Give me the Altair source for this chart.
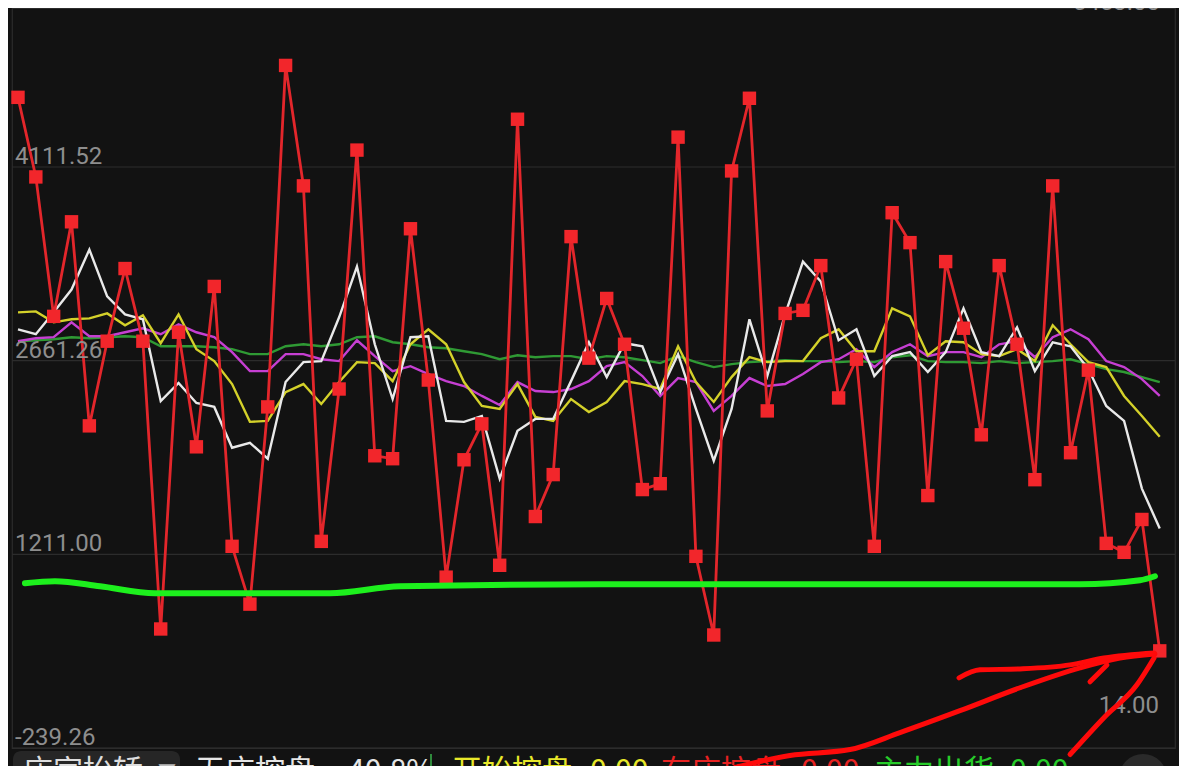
import altair as alt
import pandas as pd

# ---------------- data ----------------
idx = list(range(1, 66))
red_vals = [4633, 4037, 2993, 3701, 2173, 2807, 3351, 2807, 652, 2874,
            2016, 3217, 1271, 838, 2315, 4872, 3970, 1308, 2449, 4238,
            1949, 1927, 3649, 2516, 1040, 1919, 2188, 1129, 4469, 1494,
            1808, 3590, 2680, 3127, 2784, 1696, 1740, 4335, 1196, 607,
            4082, 4626, 2285, 3015, 3038, 3373, 2382, 2672, 1271, 3769,
            3545, 1651, 3403, 2904, 2106, 3373, 2784, 1770, 3970, 1972,
            2590, 1293, 1226, 1472, 488]
white_vals = [2896, 2859, 3023, 3194, 3493, 3142, 3008, 2971, 2359, 2494,
              2344, 2315, 2009, 2046, 1927, 2501, 2650, 2658, 2986, 3366,
              2784, 2374, 2837, 2844, 2210, 2203, 2247, 1778, 2136, 2225,
              2225, 2508, 2799, 2538, 2792, 2769, 2426, 2710, 2300, 1912,
              2300, 2971, 2546, 3008, 3403, 3254, 2814, 2896, 2546, 2695,
              2725, 2576, 2725, 3053, 2725, 2695, 2911, 2583, 2799, 2769,
              2598, 2322, 2210, 1703, 1405]
yellow_vals = [3023, 3030, 2948, 2971, 2978, 3015, 2926, 3001, 2792, 3008,
               2747, 2658, 2486, 2203, 2210, 2426, 2486, 2337, 2501, 2650,
               2643, 2508, 2784, 2896, 2784, 2501, 2322, 2300, 2486, 2240,
               2210, 2374, 2277, 2352, 2508, 2486, 2449, 2769, 2501, 2352,
               2538, 2687, 2650, 2658, 2658, 2829, 2896, 2732, 2732, 3053,
               2993, 2702, 2807, 2799, 2710, 2695, 2747, 2658, 2926, 2784,
               2650, 2613, 2397, 2247, 2091]
magenta_vals = [2807, 2829, 2837, 2948, 2844, 2844, 2874, 2904, 2859, 2933,
                2874, 2837, 2725, 2583, 2583, 2710, 2710, 2672, 2658, 2814,
                2695, 2583, 2620, 2561, 2508, 2471, 2397, 2329, 2501, 2434,
                2426, 2449, 2508, 2620, 2650, 2546, 2397, 2531, 2501, 2285,
                2397, 2531, 2471, 2486, 2561, 2650, 2672, 2747, 2613, 2725,
                2784, 2695, 2725, 2725, 2687, 2784, 2807, 2687, 2837, 2896,
                2822, 2658, 2613, 2523, 2397]
green_vals = [2807, 2814, 2822, 2837, 2829, 2837, 2844, 2837, 2769, 2769,
              2769, 2762, 2747, 2710, 2710, 2769, 2784, 2769, 2784, 2837,
              2844, 2799, 2784, 2762, 2754, 2732, 2710, 2672, 2702, 2687,
              2695, 2695, 2672, 2695, 2687, 2665, 2643, 2695, 2650, 2613,
              2635, 2650, 2658, 2665, 2658, 2658, 2650, 2658, 2650, 2687,
              2702, 2658, 2650, 2650, 2643, 2658, 2643, 2650, 2658, 2672,
              2635, 2598, 2576, 2538, 2501]

tick_vals = [-239.26, 1211.00, 2661.26, 4111.52]
tick_labels = ["-239.26", "1211.00", "2661.26", "4111.52"]
max_label = "5453.00"
min_label = "14.00"

# hand-drawn annotation strokes (x in bar index, y in value units)
hand_green_x = [1.39, 3.07, 5.60, 8.68, 18.49, 22.41, 33.62, 60.53, 63.89, 64.73]
hand_green_y = [995, 1010, 972, 920, 920, 972, 987, 987, 1017, 1047]
hand_red_a_x = [41.19, 44.27, 47.64, 50.44, 53.80, 57.17, 60.53, 62.77, 64.73]
hand_red_a_y = [-385, -295, -251, -124, 40, 212, 361, 435, 465]
hand_red_b_x = [53.75, 54.92, 57.17, 59.97, 61.87, 64.68]
hand_red_b_y = [286, 346, 353, 383, 435, 473]
hand_red_c_x = [61.09, 62.04]
hand_red_c_y = [257, 383]
hand_red_d_x = [59.97, 61.87, 63.72, 64.68]
hand_red_d_y = [-288, -12, 234, 435]

footer_labels = ["庄家抬轿", "▼", "无庄控盘", "40.8%", "开始控盘", "0.00",
                 "有庄控盘", "0.00", "主力出货", "0.00"]
footer_colors = ["#dedede", "#bdbdbd", "#e6e6e6", "#e6e6e6", "#e8e82a", "#e8e82a",
                 "#e82222", "#e82222", "#27cc2a", "#27cc2a"]

# ---------------- layout ----------------
W, H = 1163, 740
xs = alt.Scale(domain=[0.6637, 65.855])
ys = alt.Scale(domain=[-239.26, 5302], nice=False, zero=False)
FONT = "Roboto"
CJK = "Noto Sans CJK SC"

df = pd.DataFrame({"i": idx, "red": red_vals, "white": white_vals,
                   "yellow": yellow_vals, "magenta": magenta_vals,
                   "green": green_vals})
ticks = pd.DataFrame({"v": tick_vals, "t": tick_labels})

X = alt.X("i:Q", scale=xs, axis=None)


def ma_line(col, color, width=2.4):
    return alt.Chart(df).mark_line(color=color, strokeWidth=width).encode(
        x=X, y=alt.Y(f"{col}:Q", scale=ys, axis=None))


def stroke(xv, yv, color, width):
    d = pd.DataFrame({"x": xv, "y": yv})
    return alt.Chart(d).mark_line(color=color, strokeWidth=width, interpolate="monotone",
                                  strokeCap="round", strokeJoin="round").encode(
        x=alt.X("x:Q", scale=xs, axis=None), y=alt.Y("y:Q", scale=ys, axis=None))


grid = alt.Chart(ticks).mark_rule(color="#2c2c2c", strokeWidth=1.2).encode(
    y=alt.Y("v:Q", scale=ys, axis=None))
tick_text = alt.Chart(ticks).mark_text(
    align="left", baseline="alphabetic", dy=-3, font=FONT, fontSize=24, color="#8e8e8e"
).encode(x=alt.value(3), y=alt.Y("v:Q", scale=ys, axis=None), text="t:N")

red_line = alt.Chart(df).mark_line(color="#e3262b", strokeWidth=2.8).encode(
    x=X, y=alt.Y("red:Q", scale=ys, axis=None))
red_pts = alt.Chart(df).mark_point(shape="square", filled=True, size=180,
                                   color="#f2262b", opacity=1).encode(
    x=X, y=alt.Y("red:Q", scale=ys, axis=None))


def fixed_text(label, x, y, color, size, font, align="left", baseline="alphabetic"):
    return alt.Chart(pd.DataFrame({"t": [label]})).mark_text(
        align=align, baseline=baseline, font=font, fontSize=size, color=color
    ).encode(x=alt.value(x), y=alt.value(y), text="t:N")


max_text = fixed_text(max_label, 1148, 2, "#8e8e8e", 24, FONT, align="right")
min_text = fixed_text(min_label, 1147, 705, "#8e8e8e", 24, FONT, align="right")

footer_box = alt.Chart(pd.DataFrame({"a": [0]})).mark_rect(
    color="#262626", cornerRadius=8).encode(
    x=alt.value(1), x2=alt.value(168), y=alt.value(743), y2=alt.value(800))
footer_sep = alt.Chart(pd.DataFrame({"a": [0]})).mark_rule(
    color="#2f8a3c", strokeWidth=2).encode(
    x=alt.value(419), y=alt.value(746), y2=alt.value(770))
footer_btn = alt.Chart(pd.DataFrame({"a": [0]})).mark_circle(
    color="#2a2a2a", opacity=1, size=2300).encode(x=alt.value(1131), y=alt.value(770))
footer_arrow = fixed_text("↖", 1122, 778, "#9a9a9a", 26, "DejaVu Sans", align="center")

footer_x = [11, 146, 183, 336, 440, 578, 649, 789, 862, 998]
footer_layers = []
for lab, col, fx in zip(footer_labels, footer_colors, footer_x):
    size = 18 if lab == "▼" else 30
    fy = 770 if lab == "▼" else 773
    footer_layers.append(fixed_text(lab, fx, fy, col, size, CJK))

chart = alt.layer(
    grid,
    ma_line("green", "#2f9a34"),
    ma_line("magenta", "#c63fd2"),
    ma_line("yellow", "#d4d12a"),
    ma_line("white", "#e9e9e9"),
    red_line,
    red_pts,
    tick_text,
    max_text,
    min_text,
    footer_box,
    footer_sep,
    footer_btn,
    footer_arrow,
    *footer_layers,
    stroke(hand_green_x, hand_green_y, "#1df01d", 6),
    stroke(hand_red_a_x, hand_red_a_y, "#ff0a0a", 5),
    stroke(hand_red_b_x, hand_red_b_y, "#ff0a0a", 5),
    stroke(hand_red_c_x, hand_red_c_y, "#ff0a0a", 5),
    stroke(hand_red_d_x, hand_red_d_y, "#ff0a0a", 5),
).properties(
    width=W, height=H,
    autosize=alt.AutoSizeParams(type="none"),
    padding={"left": 4, "top": 0, "right": 4, "bottom": 18},
    background="#121212",
).configure_view(stroke="#2c2c2c", strokeWidth=1.2)

chart.save("out.html", embed_options={"renderer": "svg", "actions": False})
